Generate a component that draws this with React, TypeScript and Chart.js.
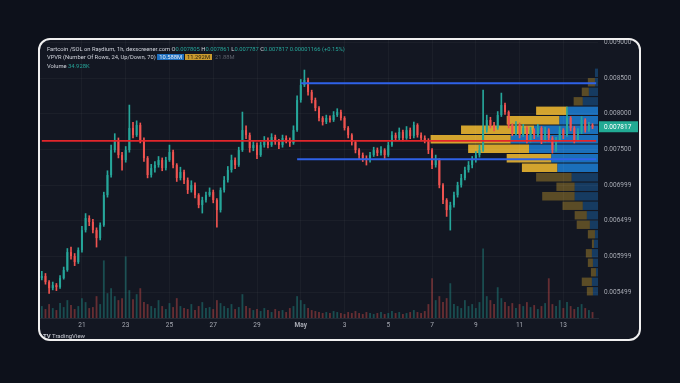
import React, { useEffect, useRef } from 'react';
import { Chart, registerables } from 'chart.js';

Chart.register(...registerables);

// ---- time axis (4h candles starting Apr 19, 04:00) ----
const startDay = 19;
const startHour = 4;
const candleHours = 4;
const aprilDays = 30;
const extraSlots = 1;
const dayTickLabels = ['21', '23', '25', '27', '29', 'May', '3', '5', '7', '9', '11', '13'];

// ---- price series ----
const firstOpen = 0.005695;
const closes = [
  0.005724, 0.005639, 0.005555, 0.005597, 0.005569, 0.005695, 0.005808, 0.006060, 0.006004, 0.005920,
  0.006088, 0.006368, 0.006537, 0.006481, 0.006368, 0.006256, 0.006439, 0.006859, 0.007140, 0.007490,
  0.007630, 0.007420, 0.007350, 0.007490, 0.007799, 0.007700, 0.007841, 0.007630, 0.007378, 0.007140,
  0.007238, 0.007280, 0.007350, 0.007238, 0.007350, 0.007462, 0.007280, 0.007098, 0.007182, 0.007069,
  0.006929, 0.006999, 0.006859, 0.006719, 0.006789, 0.006859, 0.006901, 0.006789, 0.006649, 0.006929,
  0.007069, 0.007210, 0.007350, 0.007280, 0.007490, 0.007770, 0.007700, 0.007518, 0.007560, 0.007420,
  0.007560, 0.007630, 0.007560, 0.007672, 0.007602, 0.007560, 0.007658, 0.007630, 0.007588, 0.007770,
  0.008191, 0.008401, 0.008471, 0.008303, 0.008191, 0.008079, 0.007939, 0.007883, 0.007939, 0.007911,
  0.007981, 0.008023, 0.007939, 0.007799, 0.007700, 0.007602, 0.007490, 0.007420, 0.007378, 0.007350,
  0.007420, 0.007490, 0.007448, 0.007490, 0.007420, 0.007560, 0.007700, 0.007658, 0.007743, 0.007658,
  0.007770, 0.007687, 0.007841, 0.007700, 0.007658, 0.007630, 0.007490, 0.007280, 0.007350, 0.006999,
  0.006789, 0.006649, 0.006719, 0.006859, 0.006999, 0.007098, 0.007210, 0.007280, 0.007350, 0.007420,
  0.007490, 0.007770, 0.007911, 0.007841, 0.007799, 0.007981, 0.008121, 0.008023, 0.007841, 0.007729,
  0.007841, 0.007700, 0.007799, 0.007630, 0.007770, 0.007700, 0.007799, 0.007630, 0.007770, 0.007658,
  0.007490, 0.007630, 0.007770, 0.007700, 0.007939, 0.007799, 0.007630, 0.007743, 0.007911, 0.007770,
  0.007841, 0.007817,
];
const highs = [
  0.005790, 0.005760, 0.005660, 0.005640, 0.005620, 0.005730, 0.005850, 0.006110, 0.006130, 0.006040,
  0.006120, 0.006420, 0.006600, 0.006570, 0.006520, 0.006400, 0.006470, 0.006900, 0.007200, 0.007560,
  0.007720, 0.007660, 0.007460, 0.007540, 0.008121, 0.007880, 0.007900, 0.007870, 0.007660, 0.007400,
  0.007290, 0.007330, 0.007400, 0.007380, 0.007390, 0.007560, 0.007490, 0.007300, 0.007250, 0.007210,
  0.007100, 0.007060, 0.007030, 0.006880, 0.006830, 0.006900, 0.006960, 0.006930, 0.006810, 0.006960,
  0.007120, 0.007260, 0.007420, 0.007380, 0.007530, 0.008023, 0.007830, 0.007730, 0.007610, 0.007590,
  0.007600, 0.007680, 0.007660, 0.007720, 0.007700, 0.007640, 0.007700, 0.007690, 0.007660, 0.007830,
  0.008250, 0.008480, 0.008612, 0.008500, 0.008330, 0.008220, 0.008100, 0.007960, 0.007980, 0.007970,
  0.008030, 0.008070, 0.008050, 0.007960, 0.007820, 0.007720, 0.007620, 0.007510, 0.007450, 0.007410,
  0.007460, 0.007530, 0.007520, 0.007540, 0.007510, 0.007600, 0.007750, 0.007730, 0.007800, 0.007770,
  0.007820, 0.007800, 0.007883, 0.007860, 0.007730, 0.007690, 0.007650, 0.007510, 0.007420, 0.007370,
  0.007020, 0.006810, 0.006760, 0.006900, 0.007040, 0.007150, 0.007250, 0.007330, 0.007400, 0.007470,
  0.007560, 0.008331, 0.007980, 0.007950, 0.007880, 0.008030, 0.008289, 0.008150, 0.008040, 0.007860,
  0.007890, 0.007870, 0.007850, 0.007820, 0.007810, 0.007790, 0.007850, 0.007820, 0.007810, 0.007790,
  0.007680, 0.007670, 0.007820, 0.007790, 0.008093, 0.007960, 0.007820, 0.007790, 0.007960, 0.007930,
  0.007880, 0.007860,
];
const lows = [
  0.005670, 0.005610, 0.005480, 0.005530, 0.005520, 0.005550, 0.005680, 0.005790, 0.005960, 0.005870,
  0.005900, 0.006060, 0.006340, 0.006430, 0.006330, 0.006130, 0.006230, 0.006420, 0.006830, 0.007110,
  0.007460, 0.007380, 0.007210, 0.007320, 0.007460, 0.007660, 0.007680, 0.007590, 0.007330, 0.007100,
  0.007110, 0.007180, 0.007250, 0.007200, 0.007210, 0.007330, 0.007240, 0.007050, 0.007070, 0.007020,
  0.006880, 0.006900, 0.006820, 0.006680, 0.006607, 0.006760, 0.006840, 0.006750, 0.006410, 0.006620,
  0.006900, 0.007040, 0.007180, 0.007230, 0.007260, 0.007470, 0.007650, 0.007460, 0.007480, 0.007370,
  0.007400, 0.007530, 0.007520, 0.007540, 0.007570, 0.007510, 0.007530, 0.007590, 0.007540, 0.007570,
  0.007750, 0.008160, 0.008380, 0.008260, 0.008150, 0.008040, 0.007900, 0.007840, 0.007860, 0.007880,
  0.007890, 0.007960, 0.007910, 0.007770, 0.007660, 0.007560, 0.007450, 0.007370, 0.007330, 0.007280,
  0.007320, 0.007400, 0.007410, 0.007420, 0.007370, 0.007400, 0.007540, 0.007620, 0.007630, 0.007620,
  0.007640, 0.007650, 0.007660, 0.007670, 0.007620, 0.007590, 0.007440, 0.007230, 0.007250, 0.006960,
  0.006740, 0.006560, 0.006368, 0.006690, 0.006830, 0.006970, 0.007070, 0.007180, 0.007240, 0.007320,
  0.007390, 0.007470, 0.007740, 0.007800, 0.007760, 0.007780, 0.007960, 0.007990, 0.007800, 0.007690,
  0.007700, 0.007660, 0.007680, 0.007590, 0.007600, 0.007650, 0.007680, 0.007580, 0.007600, 0.007610,
  0.007448, 0.007470, 0.007610, 0.007650, 0.007680, 0.007760, 0.007590, 0.007610, 0.007720, 0.007740,
  0.007750, 0.007790,
];
// volume (K)
const volumes = [
  12, 9, 14, 10, 8, 15, 11, 18, 13, 9, 12, 20, 16, 10, 11, 22, 14,
  58, 25, 30, 22, 18, 20, 62, 28, 19, 24, 30,
  16, 14, 12, 10, 18, 12, 9, 15, 11, 20, 12, 10, 9, 14, 8, 12, 16, 10, 11, 9, 18,
  15, 12, 10, 14, 9, 11, 24, 12, 10, 8, 9, 7, 10, 8, 6, 9, 7, 8, 6, 10, 12,
  22, 18, 14, 10, 8, 7, 6, 5, 6, 5, 7, 6, 5, 4, 6, 5, 7, 5, 4, 6, 5, 4, 5, 6, 4, 5, 7, 5, 6, 4, 5, 6, 8, 6, 5, 7,
  14, 40, 18, 22, 16, 20, 35, 14, 12, 10, 18, 12, 14, 10, 16,
  70, 22, 18, 14, 31, 20, 16, 12, 15, 10, 14, 12, 16, 11, 13, 9, 12, 15, 40, 14, 12, 18, 10, 16, 12, 9, 11, 14, 10, 8, 6,
];

// ---- price axis ----
const priceMin = 0.005136;
const priceMax = 0.009033;
const priceTicks = [0.005499, 0.005999, 0.006499, 0.006999, 0.0075, 0.008, 0.0085, 0.009];
const lastPrice = 0.007817;

// ---- levels ----
const pocLevel = 0.00762;
const upperLevel = 0.008425;
const upperLevelStart = 71;
const lowerLevel = 0.00736;
const lowerLevelStart = 70;

// ---- VPVR (rows top -> bottom) ----
const vpvrHigh = 0.00864;
const vpvrLow = 0.005444;
const vpvrUp = [3, 3, 9, 15, 30, 38, 63, 86, 68, 46, 40, 26, 23, 23, 15, 11, 8, 3, 4, 6, 5, 2, 6, 5];
const vpvrDown = [0, 7, 7, 9, 31, 52, 72, 79, 60, 44, 35, 35, 18, 32, 20, 12, 13, 7, 2, 6, 5, 5, 10, 6];
const valueAreaHigh = 0.00811;
const valueAreaLow = 0.00717;
const vpvrWidthShare = 0.3;
const volumePaneShare = 0.25;

const FONT = 'Roboto, "Noto Sans", sans-serif';
const PLOT_W = 558;
const PLOT_H = 278;

function buildLabels(n: number): string[] {
  const out: string[] = [];
  for (let i = 0; i < n; i++) {
    const h = startHour + i * candleHours;
    const d = startDay + Math.floor(h / 24);
    const hr = h % 24;
    if (hr !== 0) { out.push(''); continue; }
    if (d > aprilDays) {
      const md = d - aprilDays;
      out.push(md === 1 ? 'May' : String(md));
    } else out.push(String(d));
  }
  return out;
}

export default function App() {
  const ref = useRef<HTMLCanvasElement | null>(null);
  const vpRef = useRef<HTMLCanvasElement | null>(null);

  useEffect(() => {
    const canvas = ref.current;
    const vpCanvas = vpRef.current;
    if (!canvas || !vpCanvas) return;
    const n = closes.length + extraSlots;
    const labels = buildLabels(n);
    const opens = closes.map((_, i) => (i === 0 ? firstOpen : closes[i - 1]));
    const up = closes.map((c, i) => c >= opens[i]);
    const candleColors = up.map((u) => (u ? '#26a69a' : '#ef5350'));
    const volColors = up.map((u) => (u ? 'rgba(38,166,154,0.38)' : 'rgba(239,83,80,0.38)'));

    const levelLine = (level: number, start: number) => {
      const arr: (number | null)[] = new Array(n).fill(null);
      arr[start] = level;
      arr[n - 1] = level;
      return arr;
    };

    const rowSize = (vpvrHigh - vpvrLow) / vpvrUp.length;
    const rowCenters = vpvrUp.map((_, i) => vpvrHigh - (i + 0.5) * rowSize);
    const inVA = rowCenters.map((p) => p <= valueAreaHigh && p >= valueAreaLow);
    const maxRow = Math.max(...vpvrUp.map((u, i) => u + vpvrDown[i]));
    const maxVol = Math.max(...volumes);

    // ---- VPVR chart (underneath the price chart, same plot rectangle) ----
    const vpChart = new Chart(vpCanvas, {
      type: 'bar',
      data: {
        datasets: [
          {
            label: 'VPVR up',
            data: vpvrUp.map((u, i) => ({ y: rowCenters[i], x: [0, u] })) as any,
            backgroundColor: inVA.map((v) => (v ? 'rgba(30,136,229,0.78)' : 'rgba(30,136,229,0.32)')),
            categoryPercentage: 1, barPercentage: 0.88, grouped: false,
          },
          {
            label: 'VPVR down',
            data: vpvrDown.map((d, i) => ({ y: rowCenters[i], x: [vpvrUp[i], vpvrUp[i] + d] })) as any,
            backgroundColor: inVA.map((v) => (v ? 'rgba(246,189,48,0.85)' : 'rgba(246,189,48,0.32)')),
            categoryPercentage: 1, barPercentage: 0.88, grouped: false,
          },
        ],
      },
      options: {
        indexAxis: 'y',
        animation: false,
        responsive: false,
        events: [],
        layout: { padding: 0 },
        plugins: { legend: { display: false }, tooltip: { enabled: false } },
        scales: {
          x: { type: 'linear', display: false, reverse: true, offset: false, min: 0, max: maxRow / vpvrWidthShare },
          y: { type: 'linear', display: false, offset: false, min: priceMin, max: priceMax },
        },
      },
    } as any);

    const chart = new Chart(canvas, {
      type: 'bar',
      data: {
        labels,
        datasets: [
          {
            type: 'line', label: 'POC', data: levelLine(pocLevel, 0), yAxisID: 'y',
            borderColor: '#e3262b', borderWidth: 1.8, pointRadius: 0, spanGaps: true, order: 0,
          } as any,
          {
            type: 'line', label: 'upper', data: levelLine(upperLevel, upperLevelStart), yAxisID: 'y',
            borderColor: '#2f62e8', borderWidth: 2, pointRadius: 0, spanGaps: true, order: 0,
          },
          {
            type: 'line', label: 'lower', data: levelLine(lowerLevel, lowerLevelStart), yAxisID: 'y',
            borderColor: '#2f62e8', borderWidth: 2, pointRadius: 0, spanGaps: true, order: 0,
          },
          {
            type: 'bar', label: 'wicks', data: closes.map((_, i) => [lows[i], highs[i]]) as any,
            yAxisID: 'y', backgroundColor: candleColors, barThickness: 1, grouped: false, order: 2,
          },
          {
            type: 'bar', label: 'bodies', data: closes.map((c, i) => [opens[i], c]) as any,
            yAxisID: 'y', backgroundColor: candleColors, categoryPercentage: 1, barPercentage: 0.55,
            grouped: false, order: 1,
          },
          {
            type: 'bar', label: 'Volume', data: volumes, yAxisID: 'vol',
            backgroundColor: volColors, categoryPercentage: 1, barPercentage: 0.5, grouped: false, order: 6,
          },
        ],
      },
      options: {
        animation: false,
        responsive: false,
        events: [],
        layout: { padding: 0 },
        plugins: { legend: { display: false }, tooltip: { enabled: false } },
        scales: {
          x: {
            type: 'category',
            offset: true,
            grid: { offset: false, color: 'rgba(255,255,255,0.035)', drawTicks: false },
            border: { display: true, color: '#262a35' },
            ticks: {
              autoSkip: false, maxRotation: 0, padding: 3, color: '#a7aab3',
              font: (ctx: any) => ({ family: FONT, size: 6.5, weight: ctx.tick && ctx.tick.label === 'May' ? 'bold' : 'normal' }),
            },
            afterBuildTicks: (scale: any) => {
              scale.ticks = scale.ticks.filter((t: any) => dayTickLabels.includes(labels[t.value]));
            },
            afterFit: (scale: any) => {
              scale.height = 291 - PLOT_H;
              scale.paddingLeft = 0;
              scale.paddingRight = 0;
            },
          },
          y: {
            type: 'linear',
            position: 'right',
            min: priceMin,
            max: priceMax,
            grid: { color: 'rgba(255,255,255,0.035)', drawTicks: false },
            border: { display: false },
            ticks: {
              padding: 6, color: '#a7aab3', font: { family: FONT, size: 6.5 },
              callback: (v: any) => Number(v).toFixed(6),
            },
            afterBuildTicks: (scale: any) => {
              scale.ticks = priceTicks.map((v) => ({ value: v }));
            },
            afterFit: (scale: any) => {
              scale.width = 599 - PLOT_W;
              scale.paddingTop = 0;
              scale.paddingBottom = 0;
            },
          },
          vol: { type: 'linear', axis: 'y', position: 'right', display: false, min: 0, max: maxVol / volumePaneShare },
        } as any,
      },
      plugins: [
        {
          id: 'lastPriceBadge',
          afterDraw(c: any) {
            const { ctx, chartArea, scales } = c;
            const y = scales.y.getPixelForValue(lastPrice);
            ctx.save();
            ctx.fillStyle = '#22ab94';
            ctx.fillRect(chartArea.right + 1, y - 5.5, c.width - chartArea.right - 2, 11);
            ctx.fillStyle = '#ffffff';
            ctx.font = `6.5px ${FONT}`;
            ctx.textBaseline = 'middle';
            ctx.textAlign = 'left';
            ctx.fillText(lastPrice.toFixed(6), chartArea.right + 6, y + 0.5);
            ctx.restore();
          },
        },
      ],
    } as any);
    return () => {
      chart.destroy();
      vpChart.destroy();
    };
  }, []);

  const txt: React.CSSProperties = { color: '#d1d4dc' };
  const teal: React.CSSProperties = { color: '#26a69a' };
  return (
    <div style={{ position: 'absolute', left: 0, top: 0, width: 680, height: 383, background: '#0d111b', overflow: 'hidden' }}>
      <div
        style={{
          position: 'absolute', left: 38, top: 38, width: 603, height: 303, boxSizing: 'border-box',
          border: '2px solid #f0f0f0', borderRadius: 12, background: '#131722', overflow: 'hidden',
        }}
      >
        <canvas ref={vpRef} width={PLOT_W} height={PLOT_H} style={{ position: 'absolute', left: 0, top: 0, width: PLOT_W, height: PLOT_H }} />
        <canvas ref={ref} width={599} height={291} style={{ position: 'absolute', left: 0, top: 0, width: 599, height: 291 }} />
        <div style={{ position: 'absolute', left: 7, top: 5, fontFamily: FONT, fontSize: 5.8, lineHeight: '8.3px', whiteSpace: 'nowrap', pointerEvents: 'none' }}>
          <div style={txt}>
            Fartcoin /SOL on Raydium, 1h, dexscreener.com{'  '}
            O<span style={teal}>0.007805</span> H<span style={teal}>0.007861</span> L<span style={teal}>0.007787</span> C
            <span style={teal}>0.007817</span> <span style={teal}>0.00001166 (+0.15%)</span>
          </div>
          <div style={txt}>
            VPVR (Number Of Rows, 24, Up/Down, 70){' '}
            <span style={{ background: '#1e6fbf', color: '#e6eefa', padding: '0 2px' }}>10.588M</span>
            <span style={{ background: '#c99a2e', color: '#2a2210', padding: '0 2px', marginLeft: 1 }}>11.292M</span>
            <span style={{ color: '#5d606b', marginLeft: 3 }}>21.88M</span>
          </div>
          <div style={txt}>
            Volume <span style={teal}>34.928K</span>
          </div>
        </div>
        <div style={{ position: 'absolute', left: 3, top: 292, fontFamily: FONT, fontSize: 6, color: '#c9ccd4', whiteSpace: 'nowrap' }}>
          <b>TV</b> TradingView
        </div>
      </div>
    </div>
  );
}
